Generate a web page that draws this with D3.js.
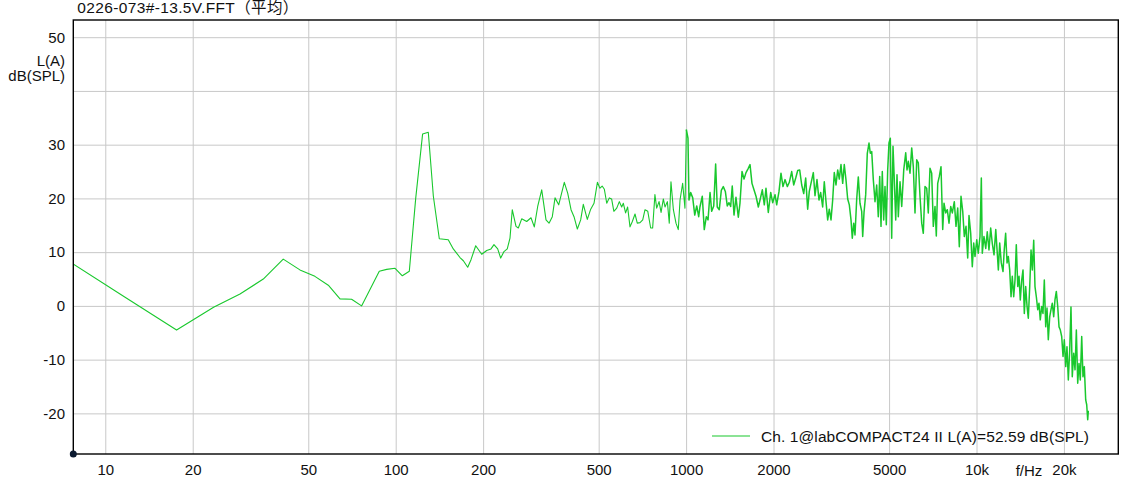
<!DOCTYPE html>
<html><head><meta charset="utf-8">
<script src="https://cdn.jsdelivr.net/npm/d3@7"></script>
<style>
body{margin:0;background:#fff;}
svg text{font-family:"Liberation Sans",Arial,"Noto Sans CJK SC",sans-serif;fill:#111;}
</style>
</head><body><svg id="c" width="1123" height="488"></svg>
<script>
// ---------- data ----------
const titleText = "0226-073#-13.5V.FFT（平均）";
const legendText = "Ch. 1@labCOMPACT24 II L(A)=52.59 dB(SPL)";
const xTickValues = [10, 20, 50, 100, 200, 500, 1000, 2000, 5000, 10000, 20000];
const xTickLabels = ["10", "20", "50", "100", "200", "500", "1000", "2000", "5000", "10k", "20k"];
const yGridValues = [-20, -10, 0, 10, 20, 30, 40, 50];
const yTickLabels = ["-20", "-10", "0", "10", "20", "30", "", "50"];
const yUnitLines = ["L(A)", "dB(SPL)"];

// [frequency Hz, level dB(SPL)]
const lowBand = [
  [5.86, 12.0], [11.7, 1.6], [17.6, -4.5], [23.6, -0.25], [29.1, 2.2], [35.0, 5.0], [41.0, 8.7],
  [46.8, 6.7], [52.7, 5.5], [58.6, 3.85], [64.3, 1.3], [70.5, 1.25], [76.3, 0], [87.8, 6.45],
  [93.1, 6.8], [99.5, 7.0], [105.4, 5.6], [111.4, 6.45], [117.2, 20.0], [123.8, 32.0], [129.5, 32.3],
  [134.8, 20.4], [141.3, 12.5], [151.7, 12.3], [157.9, 10.6], [166.5, 9.0], [171, 8.4], [177, 7.2],
  [181.7, 8.6], [188.6, 11.2], [197.8, 9.6], [205.8, 10.3], [212.9, 10.6], [218, 11.4], [224.5, 10.6],
  [229.9, 8.9], [236, 10.1], [242.2, 10.6], [247.5, 12.6], [252, 17.9], [259.6, 14.8], [264.4, 14.5],
  [271.6, 16.2], [282.5, 15.7], [292.4, 16.4], [300.1, 14.7], [308.3, 18.5], [318.3, 21.6], [329.3, 16.0],
  [337.3, 15.4], [346.2, 16.6], [353.7, 20.1], [364.2, 18.8], [380.7, 23.0], [391.1, 21.0], [401.6, 17.9],
  [411.2, 16.6], [422.2, 14.3], [433.5, 16.0], [442.6, 18.9], [456.9, 16.1], [469.4, 18.0], [481.9, 19.1]
];
const midBand = [
  [495, 23.0], [505, 21.9], [514, 22.3], [523, 21.7], [533, 19.1], [544, 20.1], [554, 19.9], [564, 17.6],
  [577, 18.2], [589, 19.4], [600, 18.4], [608, 19.1], [619, 17.3], [629, 18.4], [641, 14.7], [653, 15.7],
  [667, 17.1], [679, 15.4], [694, 15.5], [709, 16.0], [722, 17.9], [738, 17.6], [755, 14.5], [767, 14.5],
  [781, 20.7], [792, 18.2], [807, 19.4], [820, 17.4], [835, 19.9], [846, 18.4], [862, 19.4], [875, 15.4],
  [887, 23.1], [904, 17.9], [923, 15.4], [940, 14.2], [953, 19.7], [973, 22.8], [991, 18.2], [1002, 32.8],
  [1015, 31.2], [1023, 19.7], [1037, 21.1], [1054, 20.1], [1071, 16.9], [1088, 18.6], [1105, 16.6],
  [1116, 18.4], [1137, 20.4], [1155, 14.2], [1174, 16.6], [1190, 16.0], [1209, 21.1], [1225, 17.6],
  [1245, 18.6], [1264, 26.4], [1280, 18.4], [1301, 17.9], [1322, 21.5], [1343, 22.2], [1365, 21.3],
  [1386, 18.6], [1405, 19.2], [1424, 18.5], [1442, 22.3], [1462, 16.9], [1485, 20.2], [1513, 16.5],
  [1533, 19.1], [1558, 25.0], [1583, 23.6], [1608, 24.8], [1634, 25.5], [1660, 26.3], [1686, 22.8],
  [1713, 21.6], [1741, 20.4], [1773, 18.4], [1797, 19.7]
];
const upperBand = [
  [1830, 21.6], [1859, 18.8], [1884, 21.9], [1919, 17.4], [1956, 21.1], [1987, 19.2], [2024, 20.7],
  [2051, 18.8], [2089, 21.3], [2122, 24.7], [2156, 22.2], [2191, 23.5], [2231, 22.2], [2267, 23.0],
  [2310, 25.0], [2347, 22.5], [2385, 23.8], [2423, 25.2], [2461, 25.3], [2501, 22.5], [2541, 20.9],
  [2581, 23.8], [2622, 18.0], [2656, 21.3], [2692, 22.8], [2742, 24.8], [2779, 20.5], [2823, 23.5],
  [2868, 19.7], [2907, 21.1], [2953, 18.4], [2991, 23.1], [3032, 19.4], [3073, 16.0], [3112, 18.0],
  [3155, 16.0], [3197, 19.7], [3238, 24.8], [3282, 22.5], [3327, 25.3], [3369, 23.6], [3415, 26.3],
  [3461, 22.8], [3505, 26.3], [3552, 23.5], [3601, 19.9], [3648, 18.8], [3697, 16.0], [3735, 12.6],
  [3777, 15.4], [3816, 13.2], [3868, 19.9], [3917, 24.0], [3970, 19.1], [4024, 17.6], [4056, 12.9],
  [4099, 17.4], [4154, 20.7], [4207, 28.4], [4264, 30.3], [4309, 28.4], [4357, 28.7], [4412, 23.5],
  [4472, 19.4], [4532, 22.5], [4590, 16.6], [4642, 24.1], [4690, 14.8], [4738, 25.0], [4791, 16.0],
  [4841, 22.2], [4891, 15.1], [4945, 25.3], [4996, 30.3], [5049, 31.2], [5105, 12.6], [5158, 29.7],
  [5211, 23.5], [5270, 16.0], [5324, 24.4], [5380, 16.6], [5453, 23.1], [5527, 18.5], [5616, 25.3]
];
const highBand = [
  [5705, 28.5], [5764, 25.3], [5824, 26.9], [5902, 24.7], [5983, 29.4], [6059, 25.9], [6141, 17.3],
  [6225, 27.2], [6304, 26.6], [6389, 20.4], [6476, 15.4], [6559, 13.5], [6648, 22.2], [6738, 21.9],
  [6823, 17.3], [6916, 25.6], [7010, 24.7], [7100, 14.8], [7196, 18.5], [7271, 13.0], [7352, 22.8],
  [7446, 24.1], [7547, 25.9], [7650, 14.2], [7729, 19.1], [7833, 17.3], [7933, 17.9], [8041, 15.4],
  [8151, 18.5], [8255, 17.3], [8386, 19.4], [8500, 14.8], [8616, 18.2], [8726, 11.0], [8844, 20.4],
  [8965, 17.6], [9078, 12.9], [9202, 14.8], [9326, 8.9], [9423, 16.8], [9550, 13.5], [9672, 7.3],
  [9781, 11.7], [9881, 9.2], [10020, 12.3], [10140, 9.8], [10280, 12.9], [10390, 23.8], [10470, 9.8],
  [10610, 12.9], [10760, 10.7], [10890, 13.8], [11040, 10.4], [11190, 14.5], [11330, 11.7],
  [11490, 9.5], [11650, 14.2]
];
const topBand = [
  [11890, 6.7], [12020, 11.7], [12170, 8.0], [12340, 6.4], [12460, 10.4], [12600, 13.5], [12740, 8.0],
  [12870, 9.2], [13010, 6.7], [13150, 1.7], [13280, 5.5], [13430, 1.7], [13570, 4.8], [13710, 11.4],
  [13870, 3.6], [14010, 5.5], [14150, 1.1], [14310, 4.8], [14460, 6.7], [14610, -1.4], [14770, 3.6],
  [14930, -0.1], [15080, -2.3], [15250, 3.6], [15410, 10.4], [15570, 6.7], [15740, 12.2], [15900, 3.6],
  [16070, 1.7], [16250, -0.7], [16410, 0.5], [16580, -2.6], [16770, -0.1], [16940, -1.4], [17120, 4.8],
  [17310, -3.9], [17490, -0.4], [17670, -6.3], [17870, -2.0], [18050, -0.7], [18240, 0.5], [18440, -2.0],
  [18630, 1.1], [18830, 2.7], [19040, -0.1], [19240, -3.9], [19440, -4.5], [19650, -5.7], [19860, -9.4],
  [20060, -6.3], [20290, -11.3], [20490, -7.6], [20710, -13.8], [20940, -8.2], [21150, -0.2],
  [21370, -13.2], [21610, -8.8], [21840, -11.9], [22070, -4.5], [22310, -14.4], [22540, -10.7],
  [22770, -13.8], [23030, -5.7], [23260, -13.2], [23510, -11.3], [23770, -17.5], [23960, -18.4],
  [24150, -21.2], [24270, -19.5]
];

// ---------- layout ----------
const svg = d3.select("#c");
const L = 73.3, R = 1118.3, T = 20, B = 454;
const x = d3.scaleLog().domain([7.76, 30780]).range([L, R]);
const y = d3.scaleLinear().domain([-27.56, 53.2]).range([B, T]);
const green = "#19c82d";

svg.append("defs").append("clipPath").attr("id", "plotclip")
  .append("rect").attr("x", L).attr("y", T).attr("width", R - L).attr("height", B - T);

// grid
const gx = svg.append("g").attr("transform", `translate(0,${B})`)
  .call(d3.axisBottom(x).tickValues(xTickValues).tickSize(-(B - T)).tickFormat(""));
gx.select(".domain").remove();
gx.selectAll("line").attr("stroke", "#c8c8c8").attr("stroke-width", 1);
const gy = svg.append("g").attr("transform", `translate(${L},0)`)
  .call(d3.axisLeft(y).tickValues(yGridValues).tickSize(-(R - L)).tickFormat(""));
gy.select(".domain").remove();
gy.selectAll("line").attr("stroke", "#c8c8c8").attr("stroke-width", 1);

// labels
const ax = svg.append("g").attr("transform", `translate(0,${B})`)
  .call(d3.axisBottom(x).tickValues(xTickValues).tickSize(0).tickPadding(10)
    .tickFormat((d, i) => xTickLabels[i]));
ax.select(".domain").remove();
ax.selectAll("text").attr("font-size", 15).attr("fill", "#111")
  .attr("font-family", "Liberation Sans, Arial, sans-serif");
const ay = svg.append("g").attr("transform", `translate(${L},0)`)
  .call(d3.axisLeft(y).tickValues(yGridValues).tickSize(0).tickPadding(8.3)
    .tickFormat((d, i) => yTickLabels[i]));
ay.select(".domain").remove();
ay.selectAll("text").attr("font-size", 15).attr("fill", "#111")
  .attr("font-family", "Liberation Sans, Arial, sans-serif");

svg.append("text").attr("x", 65).attr("y", 66).attr("text-anchor", "end")
  .attr("font-size", 15).text(yUnitLines[0]);
svg.append("text").attr("x", 65).attr("y", 81).attr("text-anchor", "end")
  .attr("font-size", 15).text(yUnitLines[1]);
svg.append("text").attr("x", 1029).attr("y", 475.5).attr("text-anchor", "middle")
  .attr("font-size", 15).text("f/Hz");
svg.append("text").attr("x", 77.3).attr("y", 13).attr("font-size", 15.5)
  .attr("textLength", 221).attr("lengthAdjust", "spacing").text(titleText);

// data line
const line = d3.line().x(d => x(d[0])).y(d => y(d[1]));
const lower = lowBand.concat(midBand.filter(d => d[0] <= 1002));
const upper = midBand.filter(d => d[0] >= 1002).concat(upperBand, highBand, topBand);
const plot = svg.append("g").attr("clip-path", "url(#plotclip)");
plot.append("path").datum(lower).attr("d", line).attr("fill", "none")
  .attr("stroke", green).attr("stroke-width", 1.1).attr("stroke-linejoin", "round");
plot.append("path").datum(upper).attr("d", line).attr("fill", "none")
  .attr("stroke", green).attr("stroke-width", 1.5).attr("stroke-linejoin", "round");

// frame
svg.append("rect").attr("x", L).attr("y", T).attr("width", R - L).attr("height", B - T)
  .attr("fill", "none").attr("stroke", "#000").attr("stroke-width", 1.4);

// legend
svg.append("line").attr("x1", 712).attr("x2", 750).attr("y1", 436).attr("y2", 436)
  .attr("stroke", green).attr("stroke-width", 1.2);
svg.append("text").attr("x", 761).attr("y", 441.5).attr("font-size", 15.5)
  .attr("textLength", 328).attr("lengthAdjust", "spacing").text(legendText);

// origin dot
svg.append("circle").attr("cx", L).attr("cy", B).attr("r", 3.5).attr("fill", "#0b1a30");
</script>
</body></html>
